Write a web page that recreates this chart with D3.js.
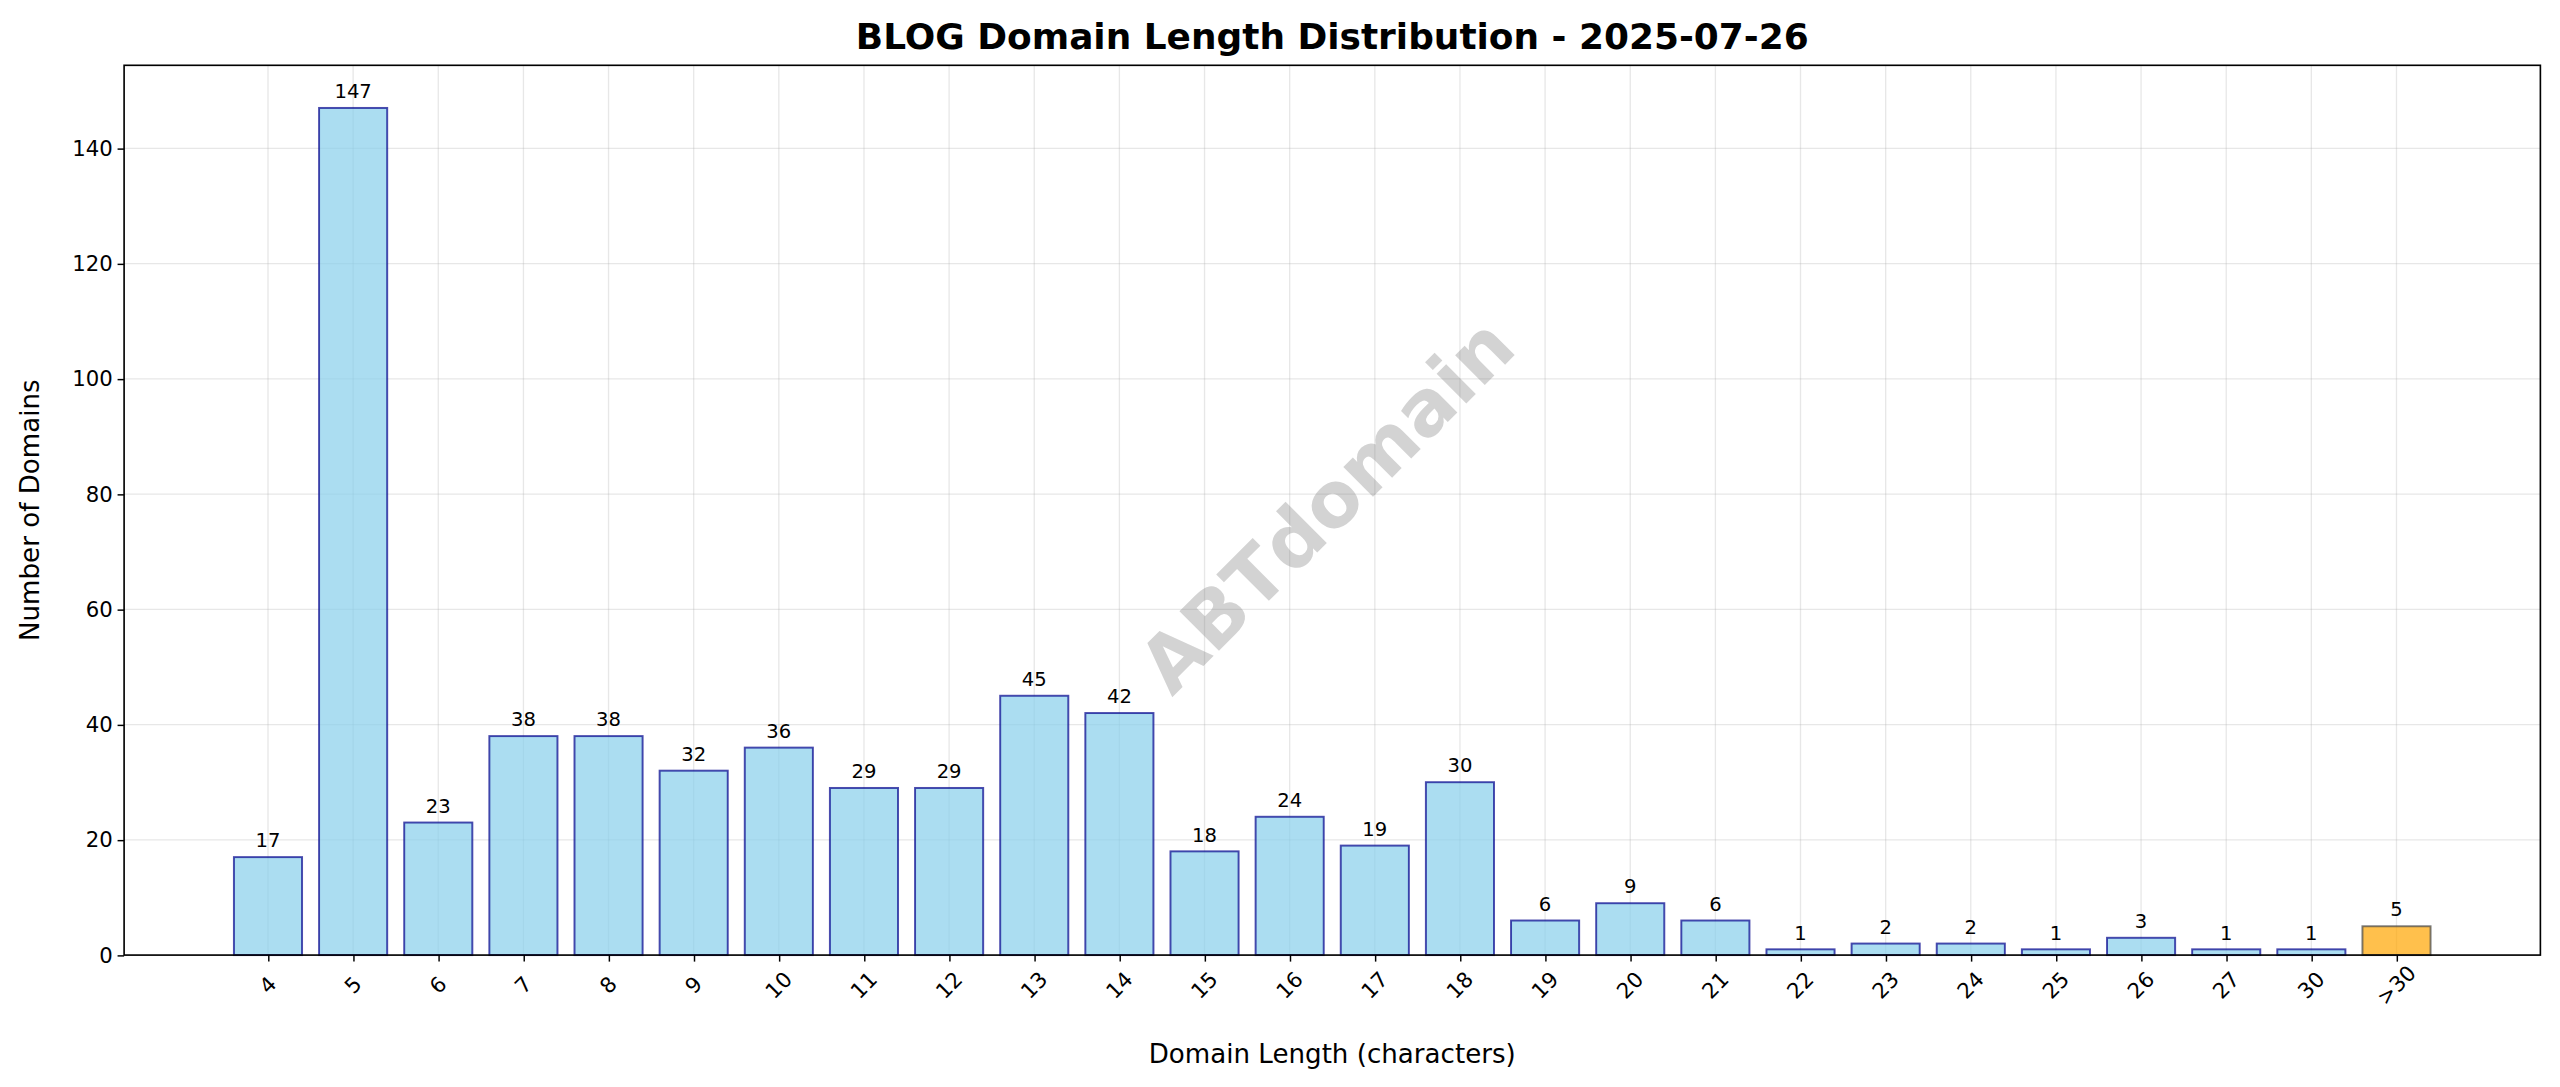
<!DOCTYPE html><html><head><meta charset="utf-8"><script src="https://cdn.jsdelivr.net/npm/d3@7"></script>
<style>body{margin:0;background:#fff;overflow:hidden}text{font-family:"DejaVu Sans",sans-serif}</style></head><body>
<svg id="c" width="2560" height="1087" viewBox="0 0 1568 665.8"></svg>
<script>
const categories=["4","5","6","7","8","9","10","11","12","13","14","15","16","17","18","19","20","21","22","23","24","25","26","27","30",">30"];
const counts=[17,147,23,38,38,32,36,29,29,45,42,18,24,19,30,6,9,6,1,2,2,1,3,1,1,5];
const yTicks=[0,20,40,60,80,100,120,140];
const svg=d3.select("#c");
const L=76,R=1556,T=40,B=585;
const x=d3.scaleLinear().domain([-1.69,categories.length-1+1.69]).range([L,R]);
const y=d3.scaleLinear().domain([0,154.4]).range([B,T]);
const bw=(x(1)-x(0))*0.8;
const g=svg.append("g");
g.selectAll(".gx").data(categories).join("line").attr("x1",(d,i)=>x(i)).attr("x2",(d,i)=>x(i)).attr("y1",T).attr("y2",B).attr("stroke","#b0b0b0").attr("stroke-opacity",0.3).attr("stroke-width",0.8);
g.selectAll(".gy").data(yTicks).join("line").attr("x1",L).attr("x2",R).attr("y1",d=>y(d)).attr("y2",d=>y(d)).attr("stroke","#b0b0b0").attr("stroke-opacity",0.3).attr("stroke-width",0.8);
g.selectAll(".bar").data(counts).join("rect").attr("x",(d,i)=>x(i)-bw/2).attr("width",bw).attr("y",d=>y(d)).attr("height",d=>B-y(d))
 .attr("fill",(d,i)=>categories[i]===">30"?"#ffa500":"#87ceeb").attr("fill-opacity",0.7)
 .attr("stroke",(d,i)=>categories[i]===">30"?"#444":"#00008b").attr("stroke-opacity",0.7).attr("stroke-width",1.2);
g.selectAll(".lab").data(counts).join("text").attr("x",(d,i)=>x(i)).attr("y",d=>y(d)-6).attr("text-anchor","middle").attr("font-size",12).text(d=>d);
svg.append("text").attr("transform","translate(815,312) rotate(-45)").attr("text-anchor","middle").attr("dominant-baseline","middle").attr("font-size",47).attr("font-weight","bold").attr("fill","#808080").attr("fill-opacity",0.35).text("ABTdomain");
const xa=svg.append("g").attr("transform",`translate(0,${B})`).call(d3.axisBottom(x).tickValues(d3.range(categories.length)).tickFormat(i=>categories[i]).tickSize(4));
xa.selectAll("text").attr("font-size",13).attr("fill","#000").attr("y",null).attr("dy",null).attr("transform","translate(0,19) rotate(-45)").attr("text-anchor","middle").attr("dominant-baseline","middle");
const ya=svg.append("g").attr("transform",`translate(${L},0)`).call(d3.axisLeft(y).tickValues(yTicks).tickSize(4));
ya.selectAll("text").attr("font-size",13).attr("fill","#000");
svg.selectAll(".tick line").attr("stroke-width",0.9);
svg.selectAll(".domain").remove();
svg.append("rect").attr("x",L).attr("y",T).attr("width",R-L).attr("height",B-T).attr("fill","none").attr("stroke","#000").attr("stroke-width",1);
svg.append("text").attr("x",(L+R)/2).attr("y",30).attr("text-anchor","middle").attr("font-size",22).attr("font-weight","bold").text("BLOG Domain Length Distribution - 2025-07-26");
svg.append("text").attr("x",(L+R)/2).attr("y",651).attr("text-anchor","middle").attr("font-size",16).text("Domain Length (characters)");
svg.append("text").attr("transform",`translate(24,${(T+B)/2}) rotate(-90)`).attr("text-anchor","middle").attr("font-size",16).text("Number of Domains");
</script></body></html>
